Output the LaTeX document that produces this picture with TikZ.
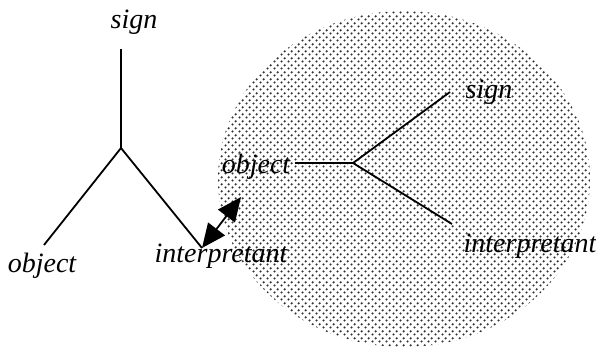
\documentclass[tikz,border=0pt]{standalone}
\usepackage{fontspec}
\setmainfont{Liberation Serif}
\usetikzlibrary{patterns.meta,arrows.meta}
\pgfdeclarepattern{name=mydots,type=uncolored,
  bottom left={\pgfpoint{0pt}{0pt}},top right={\pgfpoint{6.6pt}{6.6pt}},
  tile size={\pgfpoint{6.6pt}{6.6pt}},
  code={\pgfpathcircle{\pgfpoint{1.65pt}{1.65pt}}{1.25pt}
        \pgfpathcircle{\pgfpoint{4.95pt}{4.95pt}}{1.25pt}\pgfusepath{fill}}}
\begin{document}
\begin{tikzpicture}[x=1pt,y=-1pt,
  lbl/.style={inner sep=0pt,anchor=base,font=\fontsize{28}{32}\selectfont\itshape},
  branch/.style={line width=1.8pt,black},
  bigtip/.tip={Triangle[length=24pt,width=21pt]}]
\useasboundingbox (0,0) rectangle (596,349);
% shaded circle
\fill[pattern={mydots},pattern color=black!80] (404,179) ellipse [x radius=186,y radius=168];
% left tree
\coordinate (j1) at (121,148);
\coordinate (s1) at (121,49);
\coordinate (o1) at (44,245);
\coordinate (i1) at (202,248);
\draw[branch] (s1) -- (j1) -- (o1);
\draw[branch] (j1) -- (i1);
\node[lbl] (sign1) at (134,28) {sign};
\node[lbl] (obj1) at (42,272) {object};
\node[lbl] (int1) at (221,262) {interpretant};
% right tree
\coordinate (j2) at (353,163);
\coordinate (s2) at (450,92);
\coordinate (o2) at (295,163);
\coordinate (i2) at (452,224);
\draw[branch] (o2) -- (j2) -- (s2);
\draw[branch] (j2) -- (i2);
\node[lbl] (sign2) at (489,98) {sign};
\node[lbl] (obj2) at (256,173) {object};
\node[lbl] (int2) at (530,252) {interpretant};
% double arrow
\coordinate (a2) at (241,197);
\draw[branch,bigtip-bigtip] (i1) -- (a2);
\end{tikzpicture}
\end{document}
